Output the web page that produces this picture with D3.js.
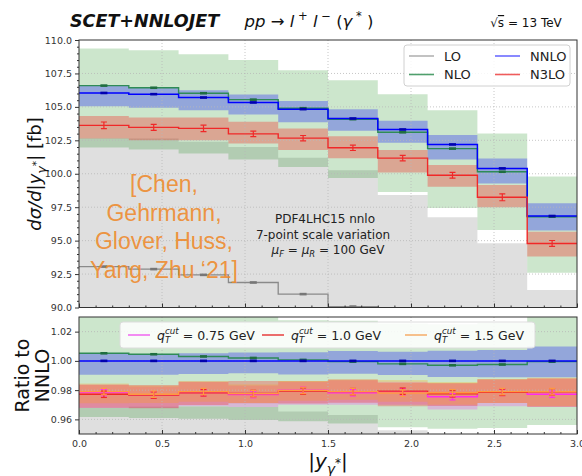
<!DOCTYPE html>
<html><head><meta charset="utf-8">
<script src="https://cdn.jsdelivr.net/npm/d3@7"></script>
<style>body{margin:0;background:#fff}svg{display:block;font-family:"DejaVu Sans",sans-serif}text{white-space:pre}</style>
</head><body>
<svg id="chart" width="582" height="476"></svg>
<script>
// |y| bins
const binEdges = [0, 0.3, 0.6, 0.9, 1.2, 1.5, 1.8, 2.1, 2.4, 2.7, 3.0];

// dσ/d|y| [fb], central values and 7-point scale bands
const loCentral = [93.06, 92.87, 92.44, 91.87, 91.00, 90.07, 88.90, 87.30, 85.40, 82.20];
const loUp      = [102.65, 102.63, 102.40, 102.00, 101.20, 100.27, 98.41, 96.75, 94.80, 91.30];
const loDown    = [85.5, 85.3, 85.0, 84.5, 83.7, 82.8, 81.8, 80.3, 78.5, 75.5];

const nloCentral = [106.59, 106.43, 106.02, 105.54, 104.90, 104.08, 103.10, 101.88, 100.15, 96.79];
const nloUp      = [109.36, 109.23, 108.93, 108.50, 107.74, 106.99, 105.95, 104.75, 103.01, 99.80];
const nloDown    = [101.97, 101.82, 101.52, 101.07, 100.50, 99.68, 98.63, 97.44, 95.80, 92.60];

const nnloCentral = [106.04, 105.95, 105.70, 105.33, 104.83, 104.13, 103.31, 102.19, 100.40, 96.84];
const nnloUp      = [106.62, 106.45, 106.25, 105.93, 105.44, 104.83, 103.96, 102.89, 101.14, 97.79];
const nnloDown    = [105.04, 104.94, 104.75, 104.43, 103.85, 103.21, 102.31, 101.07, 99.27, 95.75];

const n3loCentral = [103.62, 103.47, 103.39, 102.98, 102.66, 101.94, 101.17, 99.89, 98.24, 94.79];
const n3loUp      = [104.31, 104.21, 104.21, 103.88, 103.39, 102.81, 101.77, 100.65, 99.16, 95.67];
const n3loDown    = [102.64, 102.51, 102.51, 102.27, 101.77, 101.15, 100.10, 99.03, 97.50, 93.81];
const n3loErr     = [0.25, 0.22, 0.24, 0.20, 0.20, 0.20, 0.20, 0.22, 0.26, 0.22];

// Ratio to NNLO for the other q_T^cut choices
const q075Ratio = [0.9783, 0.9768, 0.9783, 0.9770, 0.9800, 0.9782, 0.9788, 0.9755, 0.9785, 0.9772];
const q075Up    = [0.9838, 0.9825, 0.9855, 0.9832, 0.9855, 0.9868, 0.9858, 0.9845, 0.9870, 0.9880];
const q075Down  = [0.9678, 0.9680, 0.9690, 0.9685, 0.9700, 0.9700, 0.9700, 0.9668, 0.9690, 0.9685];
const q15Ratio  = [0.9790, 0.9772, 0.9790, 0.9776, 0.9798, 0.9790, 0.9780, 0.9782, 0.9790, 0.9790];
const q15Up     = [0.9845, 0.9830, 0.9860, 0.9838, 0.9862, 0.9872, 0.9870, 0.9855, 0.9875, 0.9885];
const q15Down   = [0.9710, 0.9712, 0.9720, 0.9712, 0.9728, 0.9735, 0.9720, 0.9700, 0.9712, 0.9690];
const ratioErr  = 0.0022;

const mainTicks  = [90, 92.5, 95, 97.5, 100, 102.5, 105, 107.5, 110];
const ratioTicks = [0.96, 0.98, 1.00, 1.02];
const xTicks     = [0, 0.5, 1.0, 1.5, 2.0, 2.5, 3.0];

const svg = d3.select("#chart");
const X0 = 79, X1 = 577;
const x  = d3.scaleLinear().domain([0, 3]).range([X0, X1]);
const y  = d3.scaleLinear().domain([90, 110]).range([307.5, 40]);
const yr = d3.scaleLinear().domain([0.95, 1.03]).range([434, 317]);

const defs = svg.append("defs");
defs.append("clipPath").attr("id", "clipMain").append("rect")
  .attr("x", X0).attr("y", y(110)).attr("width", X1 - X0).attr("height", y(90) - y(110));
defs.append("clipPath").attr("id", "clipRatio").append("rect")
  .attr("x", X0).attr("y", yr(1.03)).attr("width", X1 - X0).attr("height", yr(0.95) - yr(1.03));

const centers = binEdges.slice(0, -1).map((e, i) => (e + binEdges[i + 1]) / 2);
const stepPts = vals => { const p = vals.map((v, i) => [binEdges[i], v]); p.push([binEdges[vals.length], vals[vals.length - 1]]); return p; };
const bandPts = (lo, hi) => { const p = lo.map((v, i) => [binEdges[i], v, hi[i]]); p.push([binEdges[lo.length], lo[lo.length - 1], hi[hi.length - 1]]); return p; };
const div = (a, b) => a.map((v, i) => v / b[i]);

function drawBand(g, ys, lo, hi, color, op) {
  const a = d3.area().x(d => x(d[0])).y0(d => ys(d[1])).y1(d => ys(d[2])).curve(d3.curveStepAfter);
  g.append("path").attr("d", a(bandPts(lo, hi))).attr("fill", color).attr("fill-opacity", op);
}
function drawStep(g, ys, vals, color, w) {
  const l = d3.line().x(d => x(d[0])).y(d => ys(d[1])).curve(d3.curveStepAfter);
  g.append("path").attr("d", l(stepPts(vals))).attr("fill", "none").attr("stroke", color).attr("stroke-width", w);
}
function drawMarks(g, ys, vals, color) {
  g.selectAll(null).data(vals).join("rect")
    .attr("x", (d, i) => x(centers[i]) - 3.5).attr("y", d => ys(d) - 1.3)
    .attr("width", 7).attr("height", 2.6).attr("fill", color);
}
function drawErr(g, ys, vals, errs, color) {
  vals.forEach((v, i) => {
    const cx = x(centers[i]), e = Array.isArray(errs) ? errs[i] : errs;
    const t = ys(v + e), b = ys(v - e);
    g.append("line").attr("x1", cx).attr("x2", cx).attr("y1", t).attr("y2", b).attr("stroke", color).attr("stroke-width", 1.2);
    [t, b].forEach(yy => g.append("line").attr("x1", cx - 3).attr("x2", cx + 3).attr("y1", yy).attr("y2", yy).attr("stroke", color).attr("stroke-width", 1.2));
  });
}
function drawGrid(g, ys, yticks, yr0, yr1) {
  xTicks.slice(1, -1).forEach(t => g.append("line").attr("x1", x(t)).attr("x2", x(t)).attr("y1", yr0).attr("y2", yr1)
    .attr("stroke", "#b8b8b8").attr("stroke-width", 0.8).attr("stroke-dasharray", "1,2"));
  yticks.forEach(t => g.append("line").attr("x1", X0).attr("x2", X1).attr("y1", ys(t)).attr("y2", ys(t))
    .attr("stroke", "#b8b8b8").attr("stroke-width", 0.8).attr("stroke-dasharray", "1,2"));
}

// ---------- main panel ----------
const gm = svg.append("g").attr("clip-path", "url(#clipMain)");
drawBand(gm, y, loDown, loUp, "#808080", 0.25);
drawBand(gm, y, nloDown, nloUp, "#008000", 0.2);
drawBand(gm, y, nnloDown, nnloUp, "#0000ff", 0.28);
drawBand(gm, y, n3loDown, n3loUp, "#ff0000", 0.28);
drawGrid(gm, y, mainTicks.slice(1, -1), y(110), y(90));
drawStep(gm, y, loCentral, "#8a8a8a", 1.3);
drawStep(gm, y, nloCentral, "#2e8b57", 1.4);
drawStep(gm, y, nnloCentral, "#0000ff", 1.5);
drawStep(gm, y, n3loCentral, "#f02828", 1.4);
drawMarks(gm, y, loCentral, "#777");
drawMarks(gm, y, nloCentral, "#1f6e40");
drawMarks(gm, y, nnloCentral, "#0000b0");
drawErr(gm, y, n3loCentral, n3loErr, "#f02828");

// ---------- ratio panel ----------
const gr = svg.append("g").attr("clip-path", "url(#clipRatio)");
drawBand(gr, yr, div(loDown, nnloCentral), div(loUp, nnloCentral), "#808080", 0.25);
drawBand(gr, yr, div(nloDown, nnloCentral), div(nloUp, nnloCentral), "#008000", 0.2);
drawBand(gr, yr, div(nnloDown, nnloCentral), div(nnloUp, nnloCentral), "#0000ff", 0.28);
drawBand(gr, yr, q075Down, q075Up, "#ff00ff", 0.2);
drawBand(gr, yr, div(n3loDown, nnloCentral), div(n3loUp, nnloCentral), "#ff0000", 0.25);
drawBand(gr, yr, q15Down, q15Up, "#ffa500", 0.25);
drawGrid(gr, yr, ratioTicks, yr(1.03), yr(0.95));
const q10Ratio = div(n3loCentral, nnloCentral);
drawStep(gr, yr, div(nloCentral, nnloCentral), "#2e8b57", 1.4);
drawStep(gr, yr, div(nnloCentral, nnloCentral), "#0000ff", 1.5);
drawMarks(gr, yr, div(nloCentral, nnloCentral), "#1f6e40");
drawMarks(gr, yr, div(nnloCentral, nnloCentral), "#0000b0");
drawStep(gr, yr, q075Ratio, "#ff2af0", 1.4);
drawStep(gr, yr, q10Ratio, "#f02828", 1.4);
drawStep(gr, yr, q15Ratio, "#ff9a40", 1.4);
drawErr(gr, yr, q075Ratio, ratioErr, "#ff2af0");
drawErr(gr, yr, q10Ratio, ratioErr, "#f02828");
drawErr(gr, yr, q15Ratio, ratioErr, "#ff9a40");

// ---------- axes ----------
function styleAxis(g) {
  g.select(".domain").remove();
  g.selectAll(".tick line").attr("stroke", "#333");
  g.selectAll(".tick text").attr("fill", "#333").attr("font-size", 9.5).attr("font-family", "DejaVu Sans");
}
const minorMain = d3.range(90, 110.001, 0.5).filter(v => Math.abs(v / 2.5 - Math.round(v / 2.5)) > 1e-6);
svg.append("g").attr("transform", `translate(${X0},0)`)
  .call(d3.axisLeft(y).tickValues(mainTicks).tickFormat(d3.format(".1f")).tickSize(4).tickPadding(3)).call(styleAxis);
svg.append("g").attr("transform", `translate(${X0},0)`)
  .call(d3.axisLeft(y).tickValues(minorMain).tickFormat("").tickSize(2)).call(styleAxis);
svg.append("g").attr("transform", `translate(${X0},0)`)
  .call(d3.axisLeft(yr).tickValues(ratioTicks).tickFormat(d3.format(".2f")).tickSize(4).tickPadding(3)).call(styleAxis);

const minorX = d3.range(0, 3.0001, 0.1).filter(v => Math.abs(v * 2 - Math.round(v * 2)) > 1e-6);
[[y(90), false], [yr(0.95), true]].forEach(([yy, labels]) => {
  svg.append("g").attr("transform", `translate(0,${yy})`)
    .call(d3.axisBottom(x).tickValues(xTicks).tickFormat(labels ? d3.format(".1f") : "").tickSizeInner(-4).tickSizeOuter(0).tickPadding(6))
    .call(styleAxis);
  svg.append("g").attr("transform", `translate(0,${yy})`)
    .call(d3.axisBottom(x).tickValues(minorX).tickFormat("").tickSizeInner(-2).tickSizeOuter(0)).call(styleAxis);
});

// frames
[[y(110), y(90)], [yr(1.03), yr(0.95)]].forEach(([t, b]) =>
  svg.append("rect").attr("x", X0).attr("y", t).attr("width", X1 - X0).attr("height", b - t)
    .attr("fill", "none").attr("stroke", "#333").attr("stroke-width", 1));

// ---------- rich text helper ----------
function rich(parent, parts, size, anchor, attrs) {
  const g = parent.append("g");
  let cx = 0, prevX = 0;
  parts.forEach(p => {
    const fs = size * (p.s || 1);
    const sx = p.stack ? prevX : cx;
    const t = g.append("text").attr("x", sx).attr("y", (p.dy || 0) * size)
      .attr("xml:space", "preserve")
      .attr("font-size", fs).attr("font-style", p.it ? "italic" : "normal")
      .attr("font-weight", p.b ? "bold" : "normal").text(p.t);
    if (attrs) Object.entries(attrs).forEach(([k, v]) => t.attr(k, v));
    if (p.deco) t.attr("text-decoration", p.deco);
    const w = t.node().getComputedTextLength();
    if (!p.stack) prevX = cx;
    cx = Math.max(cx, sx + w);
  });
  const shift = anchor === "middle" ? -cx / 2 : anchor === "end" ? -cx : 0;
  g.attr("transform", `translate(${shift},0)`);
  return cx;
}

// ---------- titles ----------
svg.append("text").attr("x", 70).attr("y", 27).attr("font-size", 17.5).attr("font-weight", "bold")
  .attr("font-style", "italic").attr("fill", "#111").text("SCET+NNLOJET");
rich(svg.append("g").attr("transform", "translate(309,27)"), [
  { t: "pp", it: 1 }, { t: " → " }, { t: "l", it: 1 }, { t: " +", s: 0.7, dy: -0.45 }, { t: " l", it: 1 },
  { t: " −", s: 0.7, dy: -0.45 }, { t: " (" }, { t: "γ", it: 1 }, { t: " *", s: 0.7, dy: -0.45 }, { t: " )" }
], 16.5, "middle", { fill: "#111" });
rich(svg.append("g").attr("transform", "translate(526,27)"), [
  { t: "√" }, { t: "s", deco: "overline" }, { t: " = 13 TeV" }
], 12, "middle", { fill: "#111" });

// axis titles
rich(svg.append("g").attr("transform", "translate(41,174) rotate(-90)"), [
  { t: "dσ/d|y", it: 1 }, { t: "γ", it: 1, s: 0.7, dy: 0.3 }, { t: "*", s: 0.6, dy: -0.05 }, { t: "|", it: 1 }, { t: " [fb]" }
], 18, "middle", { fill: "#111" });
svg.append("text").attr("transform", "translate(29,375.5) rotate(-90)").attr("text-anchor", "middle")
  .attr("font-size", 19).attr("fill", "#111").text("Ratio to");
svg.append("text").attr("transform", "translate(49,375.5) rotate(-90)").attr("text-anchor", "middle")
  .attr("font-size", 19).attr("fill", "#111").text("NNLO");
rich(svg.append("g").attr("transform", "translate(328,468)"), [
  { t: "|y", it: 1 }, { t: "γ", it: 1, s: 0.7, dy: 0.3 }, { t: "*", s: 0.6, dy: -0.05 }, { t: "|", it: 1 }
], 20, "middle", { fill: "#111" });

// ---------- annotations ----------
const ann = svg.append("g").attr("fill", "#222");
ann.append("text").attr("x", 325).attr("y", 222.5).attr("text-anchor", "middle").attr("font-size", 12).text("PDF4LHC15 nnlo");
ann.append("text").attr("x", 323).attr("y", 238.5).attr("text-anchor", "middle").attr("font-size", 12).text("7-point scale variation");
rich(ann.append("g").attr("transform", "translate(328,254)"), [
  { t: "μ", it: 1 }, { t: "F", it: 1, s: 0.7, dy: 0.25 }, { t: " = " }, { t: "μ", it: 1 }, { t: "R", it: 1, s: 0.7, dy: 0.25 }, { t: " = 100 GeV" }
], 12, "middle", { fill: "#222" });

const cite = ["[Chen,", "Gehrmann,", "Glover, Huss,", "Yang, Zhu \u201821]"];
svg.append("g").selectAll("text").data(cite).join("text")
  .attr("x", 164).attr("y", (d, i) => 192 + i * 28.7).attr("text-anchor", "middle")
  .attr("font-family", "Liberation Sans, Arial, sans-serif").attr("font-size", 23)
  .attr("fill", "#ee8a2c").attr("fill-opacity", 0.9).text(d => d);

// ---------- legends ----------
const lg = svg.append("g");
lg.append("rect").attr("x", 404).attr("y", 45).attr("width", 166).attr("height", 41).attr("rx", 3)
  .attr("fill", "#fff").attr("fill-opacity", 0.85).attr("stroke", "#d0d0d0");
const legendItems = [
  { name: "LO", color: "#b3b3b3", lx: 409, ly: 56 },
  { name: "NLO", color: "#4f9f6c", lx: 409, ly: 74.5 },
  { name: "NNLO", color: "#6b6bff", lx: 495, ly: 56 },
  { name: "N3LO", color: "#ef5c5c", lx: 495, ly: 74.5 }
];
legendItems.forEach(d => {
  lg.append("line").attr("x1", d.lx).attr("x2", d.lx + 25).attr("y1", d.ly).attr("y2", d.ly).attr("stroke", d.color).attr("stroke-width", 1.6);
  lg.append("text").attr("x", d.lx + 35).attr("y", d.ly + 4.7).attr("font-size", 13).attr("fill", "#222").text(d.name);
});

const rl = svg.append("g");
rl.append("rect").attr("x", 120).attr("y", 322).attr("width", 415).attr("height", 26).attr("rx", 3)
  .attr("fill", "#fff").attr("fill-opacity", 0.85).attr("stroke", "#dcdcdc");
const qLegend = [
  { label: "0.75", color: "#f06ef0", lx: 128 },
  { label: "1.0", color: "#e84848", lx: 262 },
  { label: "1.5", color: "#f5b070", lx: 405 }
];
qLegend.forEach(d => {
  rl.append("line").attr("x1", d.lx).attr("x2", d.lx + 22).attr("y1", 335).attr("y2", 335).attr("stroke", d.color).attr("stroke-width", 1.6);
  rich(rl.append("g").attr("transform", `translate(${d.lx + 29},339.5)`), [
    { t: "q", it: 1 }, { t: "cut", it: 1, s: 0.7, dy: -0.45 }, { t: "T", it: 1, s: 0.7, dy: 0.3, stack: 1 },
    { t: " = " + d.label + " GeV" }
  ], 12.5, "start", { fill: "#222" });
});
</script>
</body></html>
